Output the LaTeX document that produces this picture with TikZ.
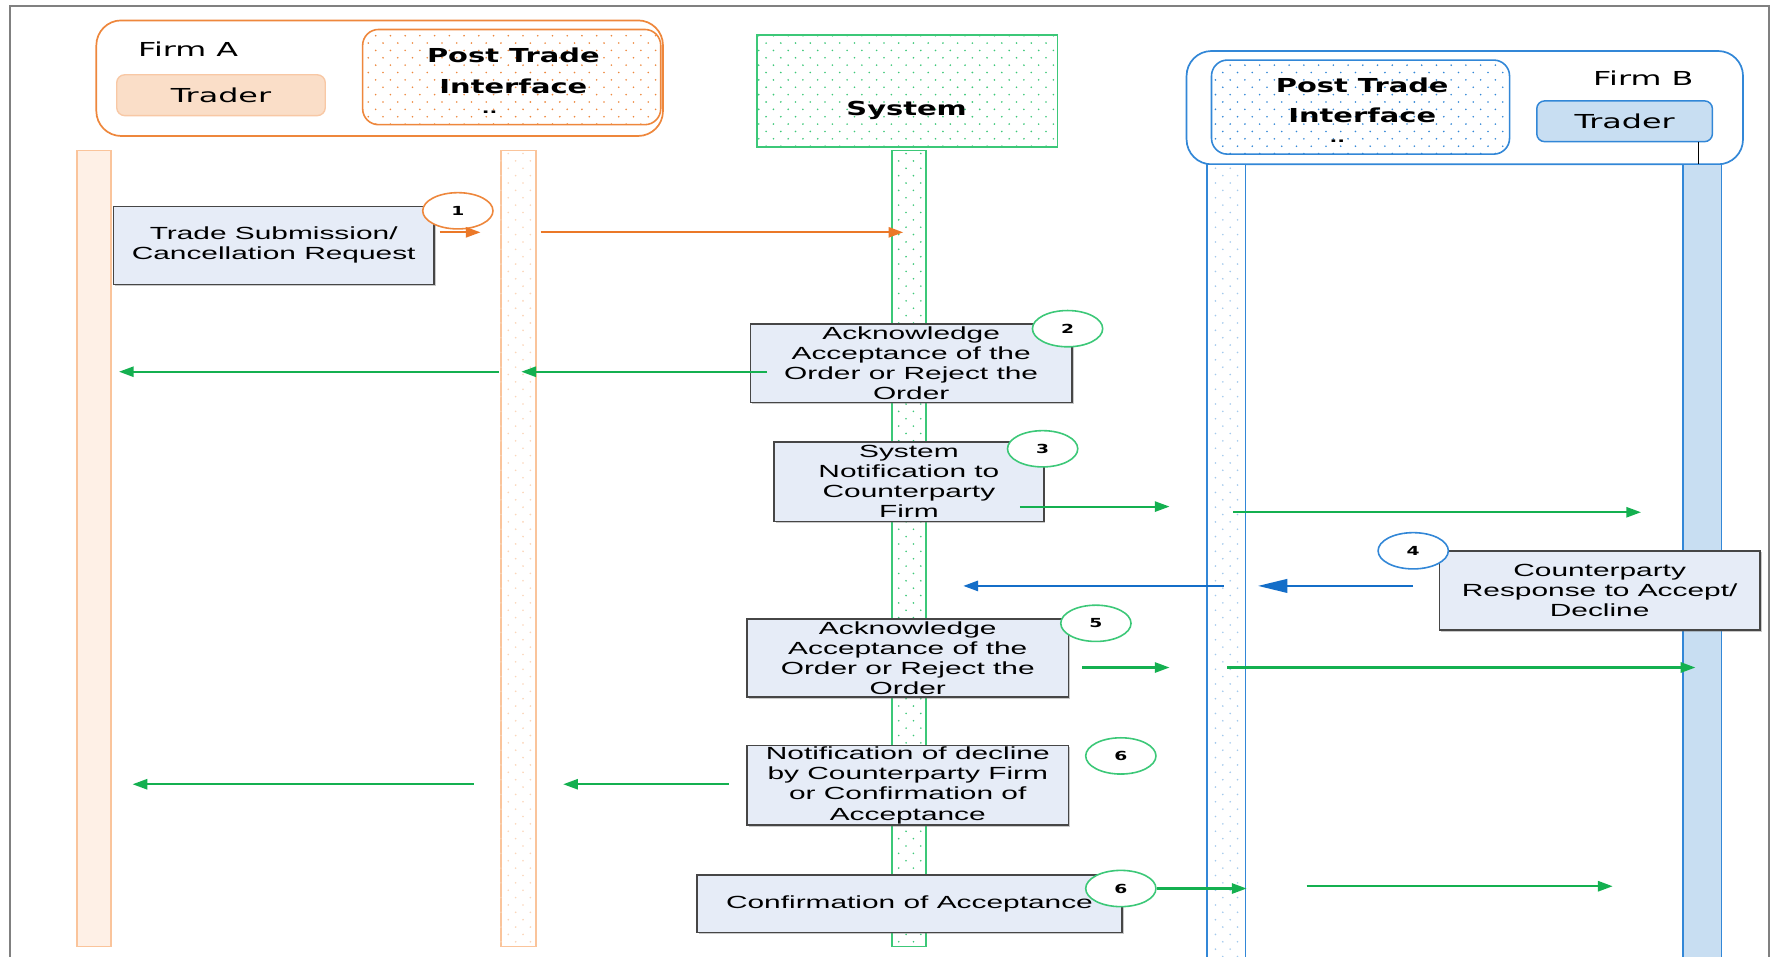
\documentclass[tikz,border=0pt]{standalone}
\usepackage{fontspec}
\usetikzlibrary{arrows.meta,shapes.geometric,patterns.meta,shadows}

\newfontfamily\hdrfont[FakeStretch=1.65]{DejaVu Sans}
\newfontfamily\hdrbold[FakeStretch=1.5]{DejaVu Sans Bold}
\newfontfamily\boxfont[FakeStretch=1.7]{Liberation Sans}

\definecolor{framegray}{RGB}{128,128,128}
\definecolor{orA}{RGB}{238,135,60}
\definecolor{orArrow}{RGB}{235,120,40}
\definecolor{peach}{RGB}{250,222,200}
\definecolor{peachline}{RGB}{248,200,165}
\definecolor{lifeAfill}{RGB}{254,240,230}
\definecolor{lifeAline}{RGB}{250,196,155}
\definecolor{grLine}{RGB}{60,200,120}
\definecolor{grArrow}{RGB}{20,176,80}
\definecolor{bl}{RGB}{50,135,215}
\definecolor{blFill}{RGB}{200,222,242}
\definecolor{blArrow}{RGB}{20,110,200}
\definecolor{msgfill}{RGB}{230,236,247}
\definecolor{msgline}{RGB}{70,70,70}

% sparse staggered dot grid used as a fill
\tikzdeclarepattern{
  name=sdots,
  type=uncolored,
  bounding box={(-1pt,-1pt) and (7.5pt,7.5pt)},
  tile size={(13pt,13pt)},
  code={
    \fill (0pt,0pt) circle (0.8pt);
    \fill (6.5pt,6.5pt) circle (0.8pt);
  }
}

\tikzset{
  hdr/.style={inner sep=0pt, font=\hdrfont\fontsize{17}{20}\selectfont},
  hdrb/.style={inner sep=0pt, align=center, font=\hdrbold\fontsize{17}{27}\selectfont},
  dotsmark/.style={inner sep=0pt, font=\hdrbold\fontsize{12}{12}\selectfont},
  life/.style={minimum width=30pt, minimum height=702pt, inner sep=0pt, line width=1.3pt},
  msg/.style={draw=msgline, fill=msgfill, line width=1.3pt, align=center, inner sep=0pt,
    font=\boxfont\fontsize{15.5}{17.7}\selectfont,
    drop shadow={shadow xshift=1.5pt, shadow yshift=-1.5pt, opacity=.35, fill=black!60}},
  num/.style={ellipse, draw, fill=white, line width=1.4pt, minimum width=62pt,
    minimum height=32pt, inner sep=0pt, font=\hdrbold\fontsize{11}{11}\selectfont},
  arr/.style={line width=1.9pt, -{Triangle[length=13pt,width=9pt]}},
}

\begin{document}
\begin{tikzpicture}[x=1pt,y=-1pt]
\useasboundingbox (0,0) rectangle (1568,844);
\fill[white] (0,0) rectangle (1568,844);

% outer frame
\draw[framegray, line width=2pt] (9,850) -- (9,5) -- (1561,5) -- (1561,850);

% ---------- Firm A ----------
\node[draw=orA, fill=white, line width=1.5pt, rounded corners=22pt,
      minimum width=500pt, minimum height=102pt] (firmA) at (335,69) {};
\node[hdr] (firmAlbl) at (166,43) {Firm A};
\node[draw=peachline, fill=peach, line width=1.2pt, rounded corners=7pt,
      minimum width=184pt, minimum height=36pt, hdr] (traderA) at (195,84) {Trader};
\node[draw=orA, line width=1.4pt, rounded corners=14pt, pattern=sdots, pattern color=orA,
      minimum width=263pt, minimum height=84pt] (ptiA) at (451.5,68) {};
\node[hdrb] (ptiAlbl) at (453,62.5) {Post Trade\\Interface};
\node[dotsmark] (ptiAdots) at (432,99) {..};

\node[life, draw=lifeAline, fill=lifeAfill] (lifeTA) at (83,484) {};
\node[life, draw=lifeAline, fill=white, minimum width=31pt] (lifePA) at (457.5,484) {};
\fill[pattern=sdots, pattern color=lifeAline!70] (lifePA.north west) rectangle (lifePA.south east);

% ---------- System ----------
\node[draw=grLine, line width=1.5pt, pattern=sdots, pattern color=grLine,
      minimum width=265pt, minimum height=99pt] (sys) at (800.5,80.5) {};
\node[hdrb] (syslbl) at (800,97) {System};
\node[life, draw=grLine, fill=white] (lifeSys) at (802,484) {};
\fill[pattern=sdots, pattern color=grLine] ([xshift=3pt]lifeSys.north west) rectangle ([xshift=-3pt]lifeSys.south east);

% ---------- Firm B ----------
\node[draw=bl, fill=white, line width=1.5pt, rounded corners=22pt,
      minimum width=491pt, minimum height=100pt] (firmB) at (1292.5,95) {};
\node[draw=bl, line width=1.4pt, rounded corners=14pt, pattern=sdots, pattern color=bl,
      minimum width=263pt, minimum height=83pt] (ptiB) at (1200.5,94.5) {};
\node[hdrb] (ptiBlbl) at (1202,88.5) {Post Trade\\Interface};
\node[dotsmark] (ptiBdots) at (1180,125) {..};
\node[hdr] (firmBlbl) at (1450,69) {Firm B};
\node[draw=bl, fill=blFill, line width=1.3pt, rounded corners=7pt,
      minimum width=155pt, minimum height=36pt, hdr] (traderB) at (1433.5,107) {Trader};
\coordinate (tbTop) at (1499,125);
\coordinate (tbBot) at (1499,145);
\draw[black, line width=0.8pt] (tbTop) -- (tbBot);

\node[life, draw=bl, fill=white, minimum width=34pt, minimum height=715pt] (lifePB) at (1082,502.5) {};
\fill[pattern=sdots, pattern color=bl!45] ([xshift=3pt]lifePB.north west) rectangle ([xshift=-3pt]lifePB.south east);
\node[life, draw=bl, fill=blFill, minimum width=34pt, minimum height=715pt] (lifeTB) at (1502,502.5) {};

% ---------- messages ----------
\node[msg, minimum width=283pt, minimum height=69pt] (m1) at (241.5,216.5)
  {Trade Submission/\\Cancellation Request};
\node[msg, minimum width=284pt, minimum height=69pt] (m2) at (804,320.5)
  {Acknowledge\\Acceptance of the\\Order or Reject the\\Order};
\node[msg, minimum width=238pt, minimum height=70pt] (m3) at (802,425)
  {System\\Notification to\\Counterparty\\Firm};
\node[msg, minimum width=283pt, minimum height=70pt] (m4) at (1411.5,521)
  {Counterparty\\Response to Accept/\\Decline};
\node[msg, minimum width=284pt, minimum height=69pt] (m5) at (801,580.5)
  {Acknowledge\\Acceptance of the\\Order or Reject the\\Order};
\node[msg, minimum width=284pt, minimum height=70pt] (m6) at (801,693)
  {Notification of decline\\by Counterparty Firm\\or Confirmation of\\Acceptance};
\node[msg, minimum width=375pt, minimum height=51pt] (m7) at (802.5,797.5)
  {Confirmation of Acceptance};

% ---------- step numbers ----------
\node[num, draw=orA] (n1) at (404,186) {1};
\node[num, draw=grLine] (n2) at (942,290) {2};
\node[num, draw=grLine] (n3) at (920,396) {3};
\node[num, draw=bl] (n4) at (1247,486) {4};
\node[num, draw=grLine] (n5) at (967,550) {5};
\node[num, draw=grLine] (n6a) at (989,667) {6};
\node[num, draw=grLine] (n6b) at (989,784) {6};

% ---------- arrow end points ----------
\coordinate (a1s) at (388,205);  \coordinate (a1e) at (424,205);
\coordinate (a2s) at (477,205);  \coordinate (a2e) at (797,205);
\coordinate (a3s) at (677,328);  \coordinate (a3e) at (460,328);
\coordinate (a4s) at (440,328);  \coordinate (a4e) at (105,328);
\coordinate (a5s) at (900,447);  \coordinate (a5e) at (1032,447);
\coordinate (a6s) at (1088,452); \coordinate (a6e) at (1448,452);
\coordinate (a7s) at (1247,517); \coordinate (a7e) at (1110,517);
\coordinate (a8s) at (1080,517); \coordinate (a8e) at (850,517);
\coordinate (a9s) at (955,589);  \coordinate (a9e) at (1032,589);
\coordinate (a10s) at (1083,589); \coordinate (a10e) at (1496,589);
\coordinate (a11s) at (643,692); \coordinate (a11e) at (497,692);
\coordinate (a12s) at (418,692); \coordinate (a12e) at (117,692);
\coordinate (a13e) at (1100,784);
\coordinate (a14s) at (1153,782); \coordinate (a14e) at (1423,782);

% ---------- arrows ----------
\draw[arr, orArrow] (a1s) -- (a1e);
\draw[arr, orArrow] (a2s) -- (a2e);
\draw[arr, grArrow] (a3s) -- (a3e);
\draw[arr, grArrow] (a4s) -- (a4e);
\draw[arr, grArrow] (a5s) -- (a5e);
\draw[arr, grArrow] (a6s) -- (a6e);
\draw[line width=1.9pt, blArrow, -{Triangle[length=26pt,width=12pt]}] (a7s) -- (a7e);
\draw[arr, blArrow] (a8s) -- (a8e);
\draw[arr, grArrow] (a9s) -- (a9e);
\draw[arr, grArrow] (a10s) -- (a10e);
\draw[arr, grArrow] (a11s) -- (a11e);
\draw[arr, grArrow] (a12s) -- (a12e);
\draw[arr, grArrow] (n6b.east) -- (a13e);
\draw[arr, grArrow] (a14s) -- (a14e);
\end{tikzpicture}
\end{document}
